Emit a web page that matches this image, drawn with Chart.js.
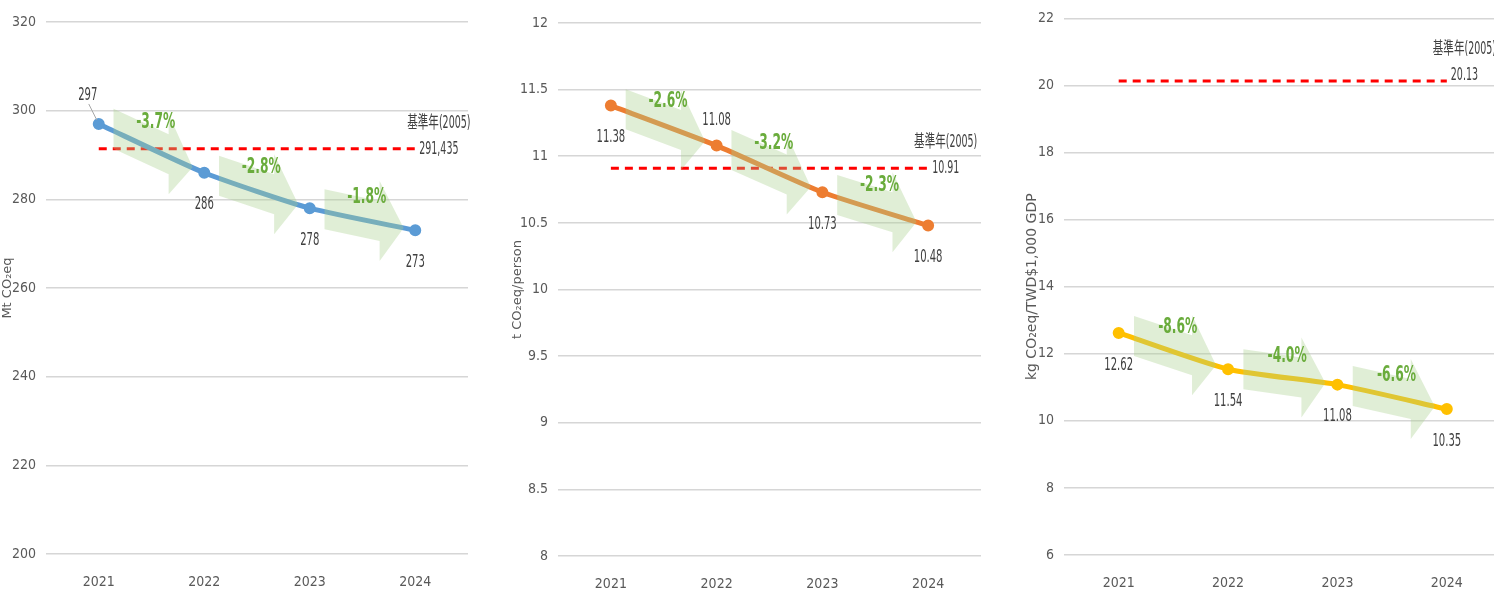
<!DOCTYPE html>
<html lang="zh-Hant">
<head>
<meta charset="utf-8">
<script src="https://cdn.jsdelivr.net/npm/chart.js"></script>
<title>溫室氣體排放趨勢</title>
<style>
  html, body { margin: 0; padding: 0; background: #fff; overflow: hidden; }
  .panel { position: absolute; top: 0; height: 601px; }
  #p1 { left: 0; width: 478px; }
  #p2 { left: 500px; width: 490px; }
  #p3 { left: 1000px; width: 510px; }
</style>
</head>
<body>
<div class="panel" id="p1"><canvas id="c1"></canvas></div>
<div class="panel" id="p2"><canvas id="c2"></canvas></div>
<div class="panel" id="p3"><canvas id="c3"></canvas></div>
<script>
// data
const years = ['2021', '2022', '2023', '2024'];

const totalEmission = [297, 286, 278, 273];
const totalChange = ['-3.7%', '-2.8%', '-1.8%'];
const totalBase = [291.435, 291.435, 291.435, 291.435];
const totalBaseText = '291,435';
const totalTicks = [200, 320, 20]; // min, max, step

const perCapita = [11.38, 11.08, 10.73, 10.48];
const perCapitaChange = ['-2.6%', '-3.2%', '-2.3%'];
const perCapitaBase = [10.91, 10.91, 10.91, 10.91];
const perCapitaBaseText = '10.91';
const perCapitaTicks = [8, 12, 0.5];

const perGdp = [12.62, 11.54, 11.08, 10.35];
const perGdpChange = ['-8.6%', '-4.0%', '-6.6%'];
const perGdpBase = [20.13, 20.13, 20.13, 20.13];
const perGdpBaseText = '20.13';
const perGdpTicks = [6, 22, 2];

const baseYearLabel = '基準年(2005)';

const NARROW = "'DejaVu Sans Condensed', 'Noto Sans CJK TC', sans-serif";
const TEXT_GREY = '#595959';
const SQUEEZE = 0.62; // the source uses a narrow face, so texts are squeezed sideways

function narrowText(ctx, txt, x, y) {
  ctx.save();
  ctx.translate(x, y);
  ctx.scale(SQUEEZE, 1);
  ctx.fillText(txt, 0, 0);
  ctx.restore();
}

// arrows, percent changes, value labels and base-year labels
const decorPlugin = {
  id: 'decor',
  afterDatasetsDraw(chart, args, opts) {
    const ctx = chart.ctx;
    const pts = chart.getDatasetMeta(0).data;
    ctx.save();
    for (let i = 0; i < pts.length - 1; i++) {
      const p0 = pts[i], p1 = pts[i + 1];
      const dx = p1.x - p0.x, dy = p1.y - p0.y;
      const yAt = x => p0.y + (x - p0.x) * dy / dx - 2;
      const sx = p0.x + 0.14 * dx;
      const tx = p0.x + 0.89 * dx;
      const hx = tx - 24;
      ctx.beginPath();
      ctx.moveTo(sx, yAt(sx) - 20);
      ctx.lineTo(hx, yAt(hx) - 20);
      ctx.lineTo(hx, yAt(hx) - 40);
      ctx.lineTo(tx, yAt(tx) + 2);
      ctx.lineTo(hx, yAt(hx) + 40);
      ctx.lineTo(hx, yAt(hx) + 20);
      ctx.lineTo(sx, yAt(sx) + 20);
      ctx.closePath();
      ctx.fillStyle = 'rgba(169, 208, 142, 0.36)';
      ctx.fill();
    }
    ctx.font = 'bold 22px ' + NARROW;
    ctx.fillStyle = '#6aac3c';
    ctx.textAlign = 'center';
    ctx.textBaseline = 'middle';
    for (let i = 0; i < pts.length - 1; i++) {
      const p0 = pts[i], p1 = pts[i + 1];
      const dx = p1.x - p0.x, dy = p1.y - p0.y;
      narrowText(ctx, opts.changes[i], p0.x + 0.54 * dx, p0.y + 0.54 * dy - (18 + 0.2 * Math.abs(dy)));
    }
    ctx.restore();
  },
  afterDraw(chart, args, opts) {
    const ctx = chart.ctx;
    const pts = chart.getDatasetMeta(0).data;
    const values = chart.data.datasets[0].data;
    ctx.save();
    ctx.font = '18px ' + NARROW;
    ctx.fillStyle = '#404040';
    ctx.textAlign = 'center';
    ctx.textBaseline = 'middle';
    pts.forEach((p, i) => {
      const place = opts.places[i];
      const txt = String(values[i]);
      if (place === 'leader') {
        narrowText(ctx, txt, p.x - 11, p.y - 29);
        ctx.strokeStyle = '#a6a6a6';
        ctx.lineWidth = 1;
        ctx.beginPath();
        ctx.moveTo(p.x - 10, p.y - 20);
        ctx.lineTo(p.x - 2, p.y - 4);
        ctx.stroke();
      } else if (place === 'above') {
        narrowText(ctx, txt, p.x, p.y - 25);
      } else {
        narrowText(ctx, txt, p.x, p.y + 32);
      }
    });
    // base-year label at the right end of the dashed line
    ctx.font = '17px ' + NARROW;
    const basePts = chart.getDatasetMeta(1).data;
    const end = basePts[basePts.length - 1];
    const w = ctx.measureText(opts.baseText).width * SQUEEZE;
    const cx = end.x + 4 + w / 2;
    const cy = end.y + opts.baseShift;
    narrowText(ctx, opts.baseText, cx, cy);
    narrowText(ctx, baseYearLabel, cx, cy - 26);
    ctx.restore();
  }
};

function makeChart(id, values, changes, base, baseText, ticks, cfg) {
  new Chart(document.getElementById(id), {
    type: 'line',
    data: {
      labels: years,
      datasets: [{
        data: values,
        borderColor: cfg.color,
        backgroundColor: cfg.color,
        borderWidth: 5,
        pointRadius: 3.5,
        pointHoverRadius: 3.5,
        tension: 0.2
      }, {
        data: base,
        borderColor: '#ff0000',
        borderWidth: 3,
        borderDash: [8, 6],
        pointRadius: 0,
        tension: 0
      }]
    },
    options: {
      responsive: true,
      maintainAspectRatio: false,
      animation: false,
      layout: { padding: { top: cfg.top, right: cfg.right, left: 0, bottom: 0 } },
      plugins: {
        legend: { display: false },
        tooltip: { enabled: false },
        decor: { changes: changes, places: cfg.places, baseText: baseText, baseShift: cfg.baseShift }
      },
      scales: {
        x: {
          offset: true,
          grid: { display: false, drawTicks: false },
          border: { display: false },
          ticks: { font: { family: NARROW, size: 14 }, color: TEXT_GREY, padding: 20 },
          afterFit: s => { s.height = cfg.xHeight; }
        },
        y: {
          min: ticks[0],
          max: ticks[1],
          ticks: {
            stepSize: ticks[2],
            font: { family: NARROW, size: 14 },
            color: TEXT_GREY,
            padding: 10,
            callback: v => String(v)
          },
          grid: { color: '#d6d6d6', lineWidth: 1.6, drawTicks: false },
          border: { display: false },
          title: {
            display: true,
            text: cfg.title,
            color: TEXT_GREY,
            font: { family: "'DejaVu Sans', sans-serif", size: cfg.titleSize },
            padding: { top: cfg.titlePad, bottom: 0 }
          },
          afterFit: s => { s.width = cfg.yWidth; }
        }
      }
    },
    plugins: [decorPlugin]
  });
}

makeChart('c1', totalEmission, totalChange, totalBase, totalBaseText, totalTicks, {
  color: '#5b9bd5', title: 'Mt CO₂eq', titleSize: 13, top: 22, right: 10, yWidth: 46, xHeight: 47, titlePad: 0,
  places: ['leader', 'below', 'below', 'below'], baseShift: 1
});
makeChart('c2', perCapita, perCapitaChange, perCapitaBase, perCapitaBaseText, perCapitaTicks, {
  color: '#ed7d31', title: 't CO₂eq/person', titleSize: 13, top: 23, right: 9, yWidth: 58, xHeight: 45, titlePad: 10,
  places: ['below', 'above', 'below', 'below'], baseShift: 0
});
makeChart('c3', perGdp, perGdpChange, perGdpBase, perGdpBaseText, perGdpTicks, {
  color: '#ffc000', title: 'kg CO₂eq/TWD$1,000 GDP', titleSize: 14, top: 15, right: 8, yWidth: 64, xHeight: 46, titlePad: 24,
  places: ['below', 'below', 'below', 'below'], baseShift: -6
});
</script>
</body>
</html>
